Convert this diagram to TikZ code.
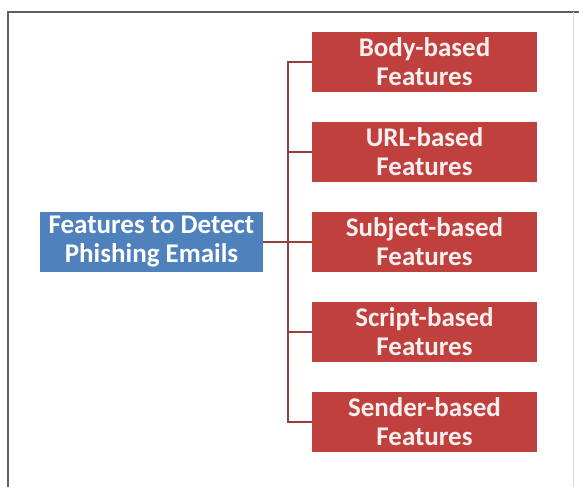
\documentclass[tikz,border=0pt]{standalone}
\usepackage{fontspec}
\setmainfont{Carlito}
\usetikzlibrary{positioning}
\definecolor{featred}{RGB}{192,64,62}
\definecolor{featblue}{RGB}{79,129,189}
\definecolor{connred}{RGB}{150,62,60}
\definecolor{framegray}{RGB}{95,95,95}
\tikzset{
  rootbox/.style={rectangle, fill=featblue, text=white, minimum width=223pt,
                  minimum height=60pt, inner sep=0pt, align=center,
                  font=\fontsize{27}{29}\selectfont\bfseries},
  featbox/.style={rectangle, fill=featred, text=white!92!featred, minimum width=225pt,
                  minimum height=60pt, inner sep=0pt, align=center,
                  font=\fontsize{27}{29}\selectfont\bfseries},
  conn/.style={connred, line width=1.6pt},
  frameline/.style={framegray, line width=2.6pt},
}
\begin{document}
\begin{tikzpicture}[x=1pt, y=1pt]
\useasboundingbox (0,0) rectangle (579,487);
% outer frame
\draw[frameline] (8,0) -- (8,475) -- (579,475);
\draw[black!15, line width=1pt] (573,475) -- (573,0);
% root and features
\node[rootbox] (root) at (151.5,245) {Features to Detect\\Phishing Emails};
\node[featbox] (body)    at (424.5,425) {Body-based\\Features};
\node[featbox] (url)     at (424.5,335) {URL-based\\Features};
\node[featbox] (subject) at (424.5,245) {Subject-based\\Features};
\node[featbox] (script)  at (424.5,155) {Script-based\\Features};
\node[featbox] (sender)  at (424.5,65)  {Sender-based\\Features};
% bracket
\coordinate (jn) at (288,245);
\draw[conn] (body.west) -| (jn) |- (sender.west);
\draw[conn] (url.west) -- (url.west -| jn);
\draw[conn] (script.west) -- (script.west -| jn);
\draw[conn] (root.east) -- (subject.west);
\end{tikzpicture}
\end{document}
